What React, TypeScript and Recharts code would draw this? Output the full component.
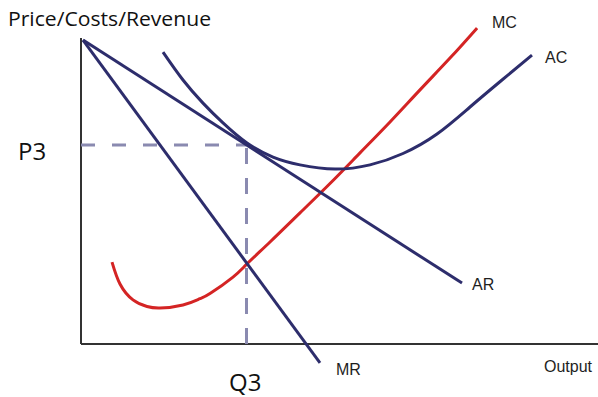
import React from "react";
import { ComposedChart, Line, XAxis, YAxis, ReferenceLine, Customized } from "recharts";

// Output (x) and Price/Costs/Revenue (y) in arbitrary units
const arCurve = [
  { x: 0.4, y: 101.3 },
  { x: 76.2, y: 20.3 },
];
const mrCurve = [
  { x: 0.4, y: 101.3 },
  { x: 47.8, y: -6.3 },
];
const mcCurve = [
  { x: 6.2, y: 27.3 },
  { x: 7.8, y: 20.0 },
  { x: 10.4, y: 14.7 },
  { x: 13.2, y: 12.5 },
  { x: 15.8, y: 12.0 },
  { x: 20.4, y: 13.0 },
  { x: 23.8, y: 15.1 },
  { x: 25.8, y: 16.8 },
  { x: 30.4, y: 22.3 },
  { x: 33.2, y: 26.7 },
  { x: 37.8, y: 34.0 },
  { x: 43.8, y: 43.7 },
  { x: 49.8, y: 53.5 },
  { x: 55.8, y: 63.7 },
  { x: 61.8, y: 74.0 },
  { x: 67.8, y: 84.7 },
  { x: 73.8, y: 95.3 },
  { x: 79.2, y: 105.3 },
];
const acCurve = [
  { x: 16.4, y: 97.3 },
  { x: 20.4, y: 88.0 },
  { x: 24.4, y: 80.3 },
  { x: 28.4, y: 73.7 },
  { x: 33.2, y: 67.0 },
  { x: 38.4, y: 62.3 },
  { x: 43.8, y: 59.7 },
  { x: 50.8, y: 58.3 },
  { x: 57.8, y: 59.7 },
  { x: 64.4, y: 63.5 },
  { x: 71.2, y: 70.0 },
  { x: 77.8, y: 79.0 },
  { x: 84.2, y: 88.0 },
  { x: 90.2, y: 96.3 },
];
const P3 = 66.3;
const Q3 = 33.1;
const xDomain = [0, 103.4];
const yDomain = [-10, 110];
const yAxisTop = 102;

const NAVY = "#2d2d6c";
const RED = "#d42424";
const DASH = "#8a8ab0";
const AXIS = "#333333";

const labelStyle = { fontFamily: "'Liberation Sans', Arial, sans-serif", fontSize: 16, fill: "#1e1e1e" };
const bigStyle = { fontFamily: "'Open Sans', sans-serif", fill: "#111111" };

const Labels = () => (
  <g>
    <text x={8} y={26} style={{ ...bigStyle, fontSize: 20 }} textLength={203} lengthAdjust="spacingAndGlyphs">
      Price/Costs/Revenue
    </text>
    <text x={18} y={160} style={{ ...bigStyle, fontSize: 24 }}>P3</text>
    <text x={229} y={391} style={{ ...bigStyle, fontSize: 24 }}>Q3</text>
    <text x={492} y={28} style={labelStyle}>MC</text>
    <text x={545} y={63} style={labelStyle}>AC</text>
    <text x={472} y={290} style={labelStyle}>AR</text>
    <text x={336} y={375} style={labelStyle}>MR</text>
    <text x={544} y={372} style={labelStyle}>Output</text>
  </g>
);

export default function App() {
  return (
    <div style={{ position: "absolute", left: 0, top: 0, width: 598, height: 397, background: "#fff" }}>
      <ComposedChart width={598} height={397} margin={{ top: 14, right: 0, bottom: 23, left: 81 }}>
        <XAxis type="number" dataKey="x" domain={xDomain} allowDataOverflow hide />
        <YAxis type="number" dataKey="y" domain={yDomain} allowDataOverflow hide />
        <ReferenceLine segment={[{ x: 0, y: 0 }, { x: xDomain[1], y: 0 }]} stroke={AXIS} strokeWidth={2} ifOverflow="visible" />
        <ReferenceLine segment={[{ x: 0, y: 0 }, { x: 0, y: yAxisTop }]} stroke={AXIS} strokeWidth={2} ifOverflow="visible" />
        <ReferenceLine segment={[{ x: 0, y: P3 }, { x: Q3, y: P3 }]} stroke={DASH} strokeWidth={3} strokeDasharray="14 17" ifOverflow="visible" />
        <ReferenceLine segment={[{ x: Q3, y: 0 }, { x: Q3, y: P3 }]} stroke={DASH} strokeWidth={3} strokeDasharray="16 14" ifOverflow="visible" />
        <Line data={mcCurve} dataKey="y" type="natural" stroke={RED} strokeWidth={3} dot={false} isAnimationActive={false} />
        <Line data={acCurve} dataKey="y" type="natural" stroke={NAVY} strokeWidth={3} dot={false} isAnimationActive={false} />
        <Line data={arCurve} dataKey="y" type="linear" stroke={NAVY} strokeWidth={3} dot={false} isAnimationActive={false} />
        <Line data={mrCurve} dataKey="y" type="linear" stroke={NAVY} strokeWidth={3} dot={false} isAnimationActive={false} />
        <Customized component={Labels} />
      </ComposedChart>
    </div>
  );
}
